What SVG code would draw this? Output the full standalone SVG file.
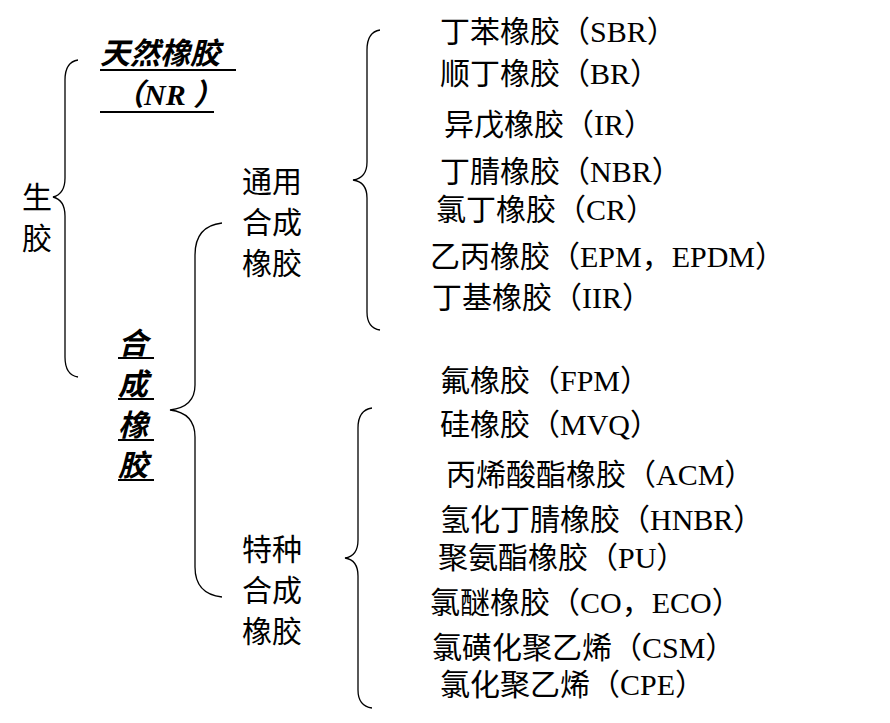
<svg xmlns="http://www.w3.org/2000/svg" width="890" height="723" viewBox="0 0 890 723">
<style>
text{font-family:"Liberation Serif","Noto Sans CJK SC",serif;font-size:30px;fill:#000}
.it{font-style:italic;font-weight:bold}
.b{fill:none;stroke:#000;stroke-width:1.3}
.u{stroke:#000;stroke-width:2}
</style>
<rect width="890" height="723" fill="#fff"/>
<g id="connectors">
<path class="b" d="M78,60 Q65,62 65,80 L65,178 Q65,194 53,197 Q65,200 65,216 L65,357 Q65,375 78,377"/>
<path class="b" d="M222,223 Q195,226 195,255 L195,385 Q195,407 170,410 Q195,413 195,437 L195,567 Q195,594 222,597"/>
<path class="b" d="M380,30 Q367,32 367,50 L367,162 Q367,178 353,180 Q367,182 367,198 L367,312 Q367,328 380,330"/>
<path class="b" d="M372,408 Q358,410 358,428 L358,540 Q358,556 345,558 Q358,560 358,576 L358,690 Q358,706 372,708"/>
</g>
<g id="root"><text x="22" y="208">生</text><text x="22" y="249">胶</text></g>
<g id="nr"><text class="it" x="100" y="64">天然橡胶</text><line class="u" x1="100" y1="70" x2="236" y2="70"/>
<text class="it" x="114" y="105">（NR ）</text><line class="u" x1="100" y1="112" x2="214" y2="112"/></g>
<g id="synth">
<text class="it" x="118" y="354">合</text><line class="u" x1="118" y1="358" x2="154" y2="358"/>
<text class="it" x="118" y="395">成</text><line class="u" x1="118" y1="399" x2="154" y2="399"/>
<text class="it" x="118" y="436">橡</text><line class="u" x1="118" y1="440" x2="154" y2="440"/>
<text class="it" x="118" y="476">胶</text><line class="u" x1="118" y1="480" x2="154" y2="480"/>
</g>
<g id="general"><text x="242" y="192">通用</text><text x="242" y="233">合成</text><text x="242" y="274">橡胶</text></g>
<g id="special"><text x="242" y="560">特种</text><text x="242" y="601">合成</text><text x="242" y="642">橡胶</text></g>
<g id="items">
<text x="440" y="42">丁苯橡胶（SBR）</text>
<text x="440" y="84">顺丁橡胶（BR）</text>
<text x="444" y="135">异戊橡胶（IR）</text>
<text x="440" y="182">丁腈橡胶（NBR）</text>
<text x="436" y="220">氯丁橡胶（CR）</text>
<text x="430" y="267">乙丙橡胶（EPM，EPDM）</text>
<text x="432" y="308">丁基橡胶（IIR）</text>
<text x="440" y="391">氟橡胶（FPM）</text>
<text x="440" y="435">硅橡胶（MVQ）</text>
<text x="446" y="485">丙烯酸酯橡胶（ACM）</text>
<text x="440" y="530">氢化丁腈橡胶（HNBR）</text>
<text x="438" y="568">聚氨酯橡胶（PU）</text>
<text x="430" y="613">氯醚橡胶（CO，ECO）</text>
<text x="432" y="658">氯磺化聚乙烯（CSM）</text>
<text x="440" y="695">氯化聚乙烯（CPE）</text>
</g>
</svg>
